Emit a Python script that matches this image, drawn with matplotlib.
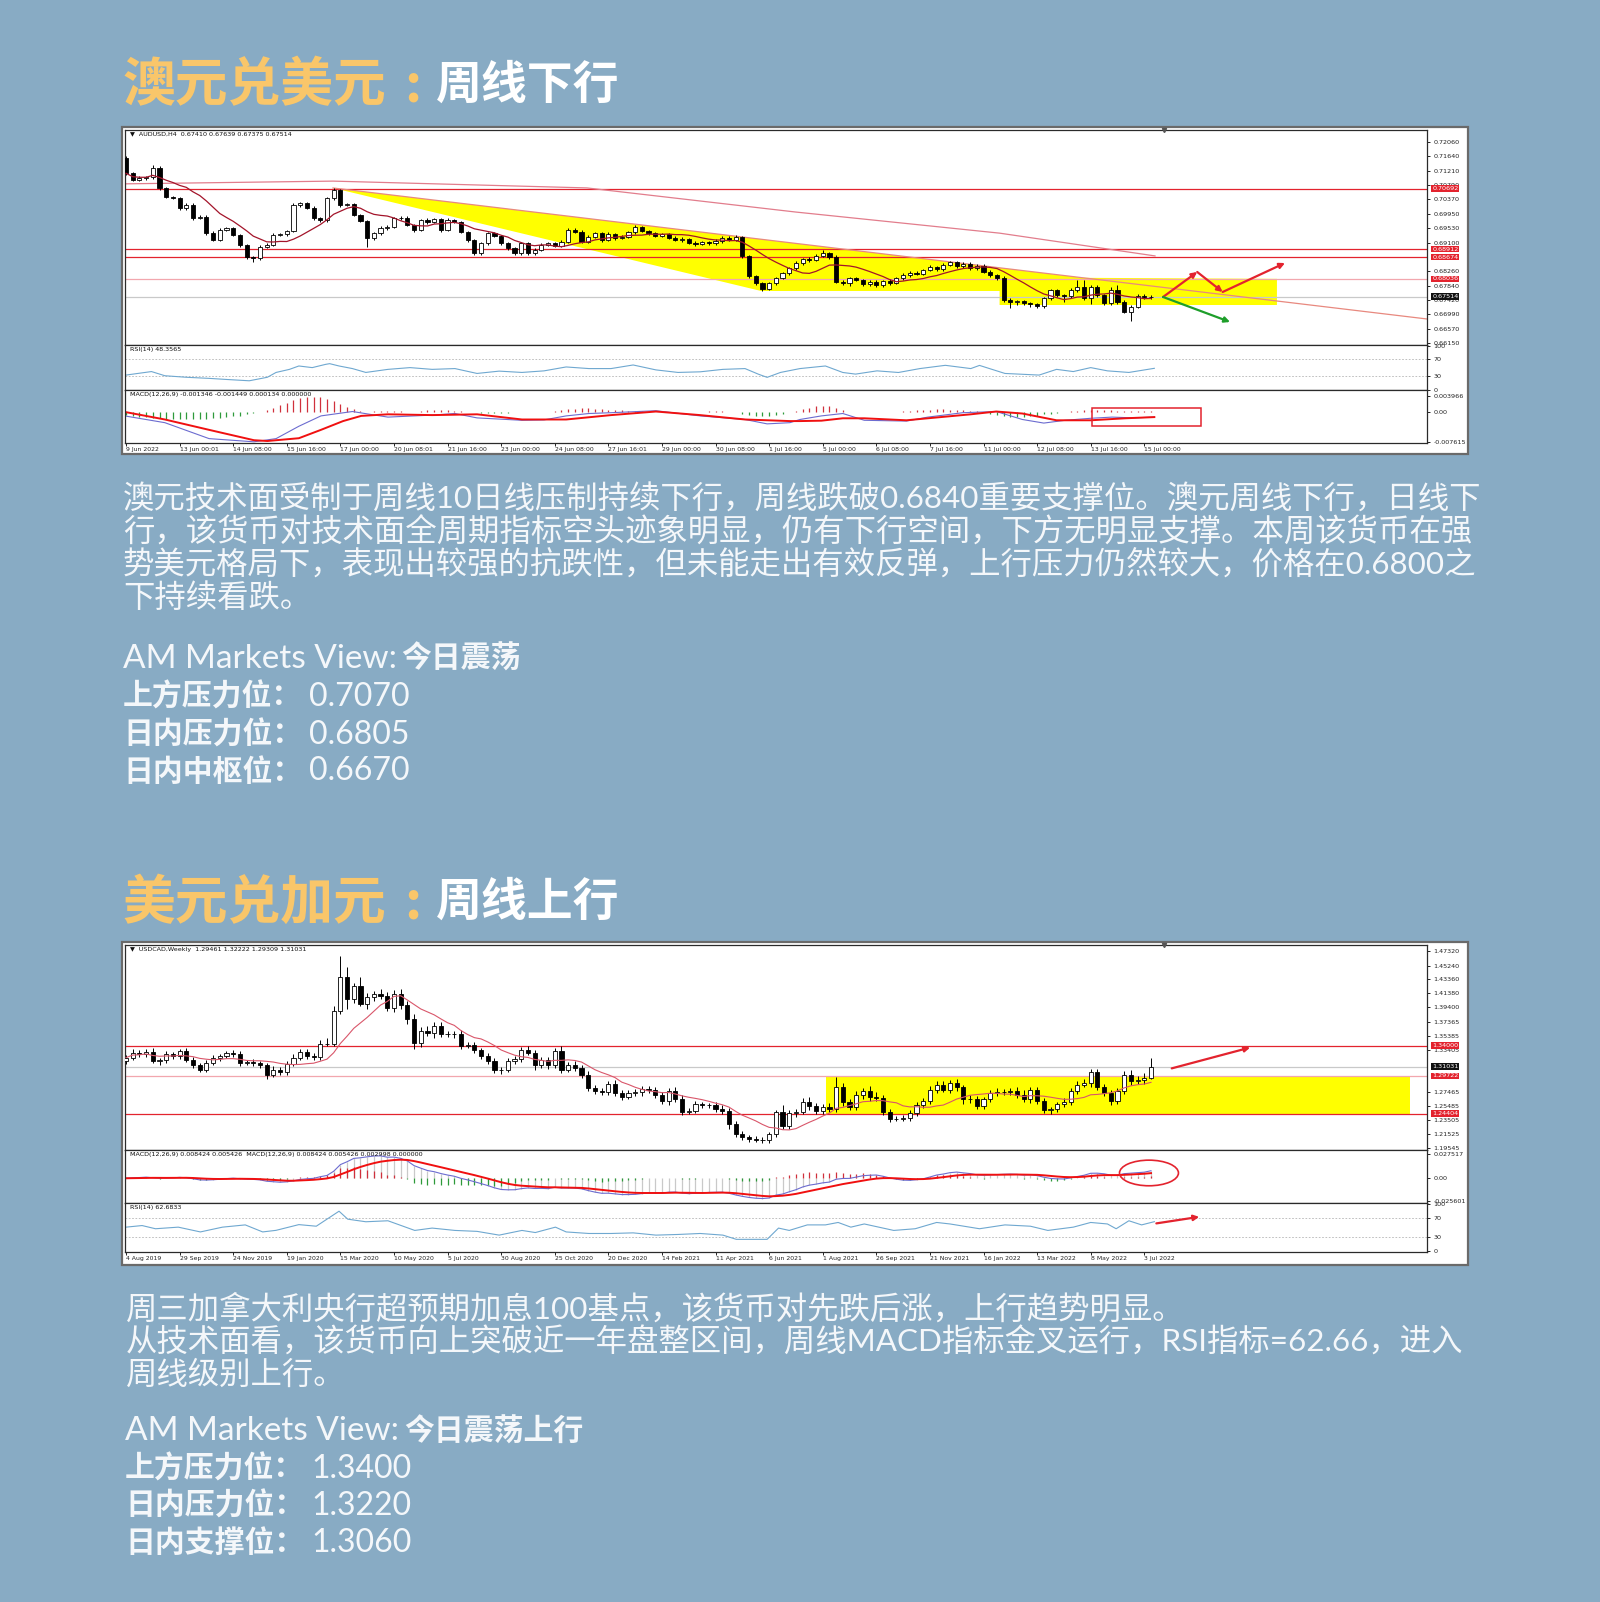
import numpy as np
import pandas as pd
import matplotlib
matplotlib.use('Agg')
import matplotlib.pyplot as plt
from matplotlib.patches import Rectangle, Ellipse, Polygon

W, H = 1600, 1602
BG = '#88ABC4'
GOLD = '#F9C66A'
CJK = ['Noto Sans CJK SC', 'DejaVu Sans']
LAT = ['Lato', 'Noto Sans CJK SC', 'DejaVu Sans']
plt.rcParams['font.family'] = CJK

# ---------------- AUDUSD H4 (9 Jun - 15 Jul 2022) ----------------
aud_first_open = 0.7158
aud_close = [
    .7114, .7094, .7099, .7102, .7131, .7070, .7045, .7040, .7011, .7021, .6982, .6986, .6938, .6918, .6947, .6952, .6933, .6903, .6869, .6864,
    .6898, .6903, .6933, .6935, .6944, .7021, .7026, .7013, .6982, .6977, .7040, .7065, .7021, .7023, .6991, .6974, .6923, .6937, .6952, .6957,
    .6982, .6984, .6962, .6947, .6977, .6970, .6979, .6947, .6977, .6972, .6942, .6918, .6879, .6908, .6937, .6930, .6908, .6893, .6879, .6908,
    .6879, .6889, .6903, .6908, .6901, .6913, .6947, .6942, .6913, .6928, .6937, .6918, .6935, .6923, .6928, .6940, .6955, .6945, .6938, .6930,
    .6935, .6925, .6918, .6922, .6910, .6905, .6912, .6908, .6915, .6925, .6918, .6928, .6870, .6812, .6790, .6775, .6790, .6805, .6820, .6835,
    .6850, .6862, .6858, .6872, .6880, .6868, .6795, .6790, .6805, .6800, .6788, .6795, .6785, .6798, .6790, .6805, .6815, .6822, .6818, .6830,
    .6838, .6832, .6845, .6852, .6840, .6848, .6835, .6842, .6825, .6815, .6805, .6741, .6736, .6738, .6732, .6729, .6724, .6746, .6771, .6756,
    .6752, .6771, .6781, .6746, .6781, .6756, .6732, .6771, .6736, .6707, .6722, .6754, .6749, .67514]
# wick lengths in pips above / below the body
aud_wick_up = [
    8, 4, 6, 4, 8, 5, 4, 3, 5, 6, 5, 4, 4, 6, 5, 4, 4, 3, 4, 3,
    5, 6, 5, 4, 4, 6, 5, 3, 4, 3, 4, 5, 3, 4, 3, 4, 3, 5, 6, 4,
    4, 5, 3, 4, 4, 5, 4, 3, 5, 4, 3, 3, 4, 5, 4, 5, 3, 4, 3, 5,
    4, 4, 5, 4, 5, 4, 6, 5, 4, 4, 5, 4, 5, 4, 4, 5, 6, 4, 3, 4,
    4, 3, 4, 4, 3, 4, 4, 3, 5, 5, 4, 5, 3, 3, 4, 3, 5, 4, 5, 4,
    5, 4, 5, 4, 8, 4, 6, 4, 5, 4, 4, 5, 4, 3, 5, 4, 5, 4, 5, 4,
    5, 4, 6, 5, 4, 5, 4, 5, 4, 5, 4, 8, 5, 4, 3, 4, 4, 5, 4, 4,
    4, 5, 18, 18, 4, 5, 4, 8, 14, 4, 4, 4, 5, 4]
aud_wick_dn = [
    5, 4, 3, 4, 4, 5, 4, 3, 5, 4, 5, 3, 5, 4, 4, 4, 4, 5, 6, 10,
    4, 5, 4, 3, 4, 4, 5, 4, 4, 5, 5, 4, 5, 4, 4, 4, 25, 4, 4, 4,
    3, 4, 4, 5, 4, 4, 3, 5, 4, 3, 4, 5, 6, 4, 4, 3, 5, 4, 5, 4,
    5, 4, 3, 4, 4, 5, 4, 3, 4, 4, 3, 5, 4, 4, 3, 4, 5, 4, 4, 3,
    4, 4, 3, 5, 4, 4, 3, 4, 4, 5, 4, 3, 5, 6, 5, 8, 4, 4, 3, 4,
    4, 5, 4, 3, 4, 5, 4, 5, 6, 4, 5, 4, 5, 4, 4, 3, 4, 5, 4, 4,
    3, 5, 4, 4, 5, 4, 4, 5, 4, 5, 4, 4, 18, 8, 6, 8, 6, 5, 6, 5,
    15, 6, 5, 6, 15, 5, 6, 5, 5, 5, 28, 5, 4, 4]
aud_dates = ['9 Jun 2022', '13 Jun 00:01', '14 Jun 08:00', '15 Jun 16:00', '17 Jun 00:00',
             '20 Jun 08:01', '21 Jun 16:00', '23 Jun 00:00', '24 Jun 08:00', '27 Jun 16:01',
             '29 Jun 00:00', '30 Jun 08:00', '1 Jul 16:00', '5 Jul 00:00', '6 Jul 08:00',
             '7 Jul 16:00', '11 Jul 00:00', '12 Jul 08:00', '13 Jul 16:00', '15 Jul 00:00']
aud_ticks = [0.72060, 0.71640, 0.71210, 0.70790, 0.70370, 0.69950, 0.69530, 0.69100,
             0.68260, 0.67840, 0.67420, 0.66990, 0.66570, 0.66150]
aud_red_levels = [0.70692, 0.68912, 0.68674]
aud_pink_level = 0.68036
aud_last = 0.67514
aud_long_ma_idx = [0, 30.9, 68.8, 100.0, 130.4, 153.6]
aud_long_ma = [0.7083, 0.7091, 0.7071, 0.7000, 0.6938, 0.6871]
aud_trend_idx = [30.9, 194.2]
aud_trend = [0.70708, 0.66856]
aud_zone_idx = [30.9, 142.8, 171.8, 171.8, 130.4, 130.4, 94.8]
aud_zone = [0.70708, 0.68067, 0.68036, 0.67267, 0.67267, 0.67679, 0.67679]
aud_up_arrow_idx = [154.8, 159.9, 163.7, 173.0]
aud_up_arrow = [0.67503, 0.68238, 0.67650, 0.68502]
aud_dn_arrow_idx = [154.8, 164.8]
aud_dn_arrow = [0.67503, 0.66768]
aud_rsi_idx = [0, 3.8, 5.8, 9, 12.4, 15, 18.4, 21.1, 22.4, 24.4, 25.8, 27.8, 29.8, 30.4, 31.8,
               33.8, 35.8, 39.1, 42.4, 45.7, 49.1, 52.4, 55.7, 59.1, 62.4, 65.7, 69.1, 72.4, 75.7, 79.1,
               82.4, 85.7, 89.1, 92.4, 94.4, 95.7, 97.7, 100.6, 104.4, 107, 108.9, 112.1, 115.3, 118.5, 122.3,
               126.1, 127.4, 131.2, 136.3, 138.9, 141.4, 144, 146.5, 149.7, 153.5]
aud_rsi = [33, 41, 31.5, 28, 25.5, 23, 20, 28, 39, 46, 53.7, 50, 57.4, 59, 53.7,
           47.8, 39, 46, 50, 46, 47.8, 36.7, 42, 39, 42.6, 51.5, 47.8, 47.8, 56, 44.8,
           39, 40.4, 46, 47.8, 35, 27.8, 39, 47.8, 53.7, 38.9, 35.2, 42.6, 38.9, 47.8, 55.2,
           47.8, 55, 36.7, 33, 46, 41, 50, 42.6, 39, 48.4]
# MACD, in units of 1e-4
aud_macd_idx = [-0.2, 5.8, 12.4, 19.1, 22.4, 25.8, 29.1, 33.8, 36.4, 39.1, 45.7, 49.1, 52.4, 59.1, 62.4,
                65.7, 69.1, 72.4, 79.1, 85.7, 92.4, 95.7, 99.1, 100.6, 103.8, 107, 110.2, 116.5, 119.7, 124.9,
                129.9, 133.8, 137, 140.2, 144, 147.2, 150.4, 153.5]
aud_macd = [-11, -28, -68, -76, -68, -37, -11, 0, -7, -14, -9, -5, -16, -22, -21,
            -11, -5, -3, 2, -11, -20, -31, -28, -20, -11, -5, -22, -24, -14, -3,
            0, -20, -29, -22, -17, -14, -16, -14]
aud_sig_idx = [-0.2, 5.8, 12.4, 19.1, 21.1, 25.8, 29.1, 32.4, 35.1, 39.1, 45.7, 52.4, 59.1, 65.7, 72.4,
               79.1, 85.7, 92.4, 99.1, 100.6, 103.8, 107, 110.2, 116.5, 121.6, 126.1, 129.9, 133.8, 138.9, 144,
               149.1, 153.5]
aud_sig = [-1, -20, -46, -72, -74, -67, -46, -24, -11, -7, -9, -7, -20, -20, -9,
           0, -9, -20, -24, -24, -23, -17, -17, -22, -14, -7, 0, -5, -22, -22,
           -17, -14]
aud_hist = [
    -8, -11, -13, -15, -16, -17, -18, -19, -20, -20, -20, -19, -18, -17, -16,
    -14, -12, -10, -7, -4, -1,
    4, 10, 16, 22, 28,
    33, 36, 37, 36, 32, 26, 19, 12,
    6, 2, -1,
    1, 1, 2, 1, 1, -1, -1, 1,
    3, 4, 4, 3, 2, 1, 0,
    -2, -3, -3, -4, -3, -3, -2, -2, -2, -1, -1, -1,
    2, 4, 6, 7, 8, 8, 7, 6, 5, 4, 3, 2, 2, 1,
    -1, -1, -2, -2, -2, -1, -1, -1, 0, 1, 1, 1, 0, -2, -5, -8,
    -10, -11, -10, -8, -5, -2,
    2, 6, 10, 13, 15, 14, 10, 5,
    -1, -1, -1, -1, -1, -1, -1, 0, 1, 2,
    3, 4, 5, 6, 6, 5, 4, 3, 2, 1,
    -2, -5, -8, -12, -14, -15, -14, -12, -10, -7, -5, -3, -1,
    1, 2, 3, 4, 4, 3, 3, 2, 2, 1, 1, 1, 1]

# ---------------- USDCAD Weekly (Aug 2019 - Jul 2022) ----------------
usd_first_open = 1.3180
usd_close = [
    1.3230, 1.3300, 1.3280, 1.3310, 1.3180, 1.3190, 1.3280, 1.3250, 1.3320, 1.3200, 1.3120, 1.3060, 1.3160, 1.3220, 1.3250, 1.3290, 1.3280, 1.3150, 1.3170, 1.3150,
    1.3120, 1.2980, 1.3060, 1.3030, 1.3140, 1.3230, 1.3310, 1.3250, 1.3240, 1.3420, 1.3420, 1.3880, 1.4370, 1.4060, 1.4240, 1.3990, 1.4090, 1.4130, 1.4100, 1.3930,
    1.4130, 1.3970, 1.3770, 1.3430, 1.3610, 1.3570, 1.3680, 1.3560, 1.3560, 1.3560, 1.3400, 1.3410, 1.3330, 1.3250, 1.3180, 1.3060, 1.3060, 1.3180, 1.3210, 1.3340,
    1.3300, 1.3130, 1.3190, 1.3120, 1.3320, 1.3060, 1.3130, 1.3090, 1.2990, 1.2800, 1.2760, 1.2740, 1.2860, 1.2730, 1.2680, 1.2730, 1.2740, 1.2790, 1.2770, 1.2700,
    1.2620, 1.2760, 1.2650, 1.2470, 1.2480, 1.2570, 1.2560, 1.2560, 1.2510, 1.2480, 1.2290, 1.2150, 1.2110, 1.2080, 1.2070, 1.2070, 1.2150, 1.2470, 1.2270, 1.2450,
    1.2470, 1.2610, 1.2550, 1.2480, 1.2540, 1.2500, 1.2810, 1.2600, 1.2530, 1.2700, 1.2760, 1.2670, 1.2660, 1.2460, 1.2370, 1.2370, 1.2380, 1.2450, 1.2560, 1.2620,
    1.2770, 1.2850, 1.2780, 1.2870, 1.2810, 1.2640, 1.2640, 1.2550, 1.2640, 1.2730, 1.2750, 1.2750, 1.2760, 1.2700, 1.2650, 1.2770, 1.2620, 1.2490, 1.2500, 1.2570,
    1.2610, 1.2760, 1.2850, 1.2870, 1.3020, 1.2820, 1.2730, 1.2620, 1.2760, 1.2990, 1.2900, 1.2920, 1.2946, 1.31031]
usd_wick_up = [
    40, 45, 35, 40, 60, 35, 40, 30, 35, 45, 40, 30, 35, 40, 30, 35, 40, 45, 30, 35,
    30, 40, 45, 35, 40, 50, 35, 40, 45, 60, 80, 80, 297, 130, 40, 120, 50, 35, 60, 60,
    50, 70, 60, 80, 50, 60, 45, 50, 40, 45, 60, 40, 40, 35, 40, 45, 40, 50, 45, 40,
    60, 40, 45, 50, 40, 70, 40, 45, 40, 45, 40, 35, 40, 50, 40, 40, 45, 40, 40, 50,
    45, 40, 60, 50, 40, 45, 40, 35, 40, 45, 40, 45, 40, 35, 40, 40, 35, 20, 90, 40,
    40, 50, 60, 45, 40, 45, 140, 60, 40, 60, 40, 75, 70, 40, 45, 40, 40, 40, 45, 40,
    60, 45, 55, 45, 60, 40, 60, 45, 40, 50, 55, 40, 45, 60, 70, 45, 40, 45, 40, 40,
    45, 40, 45, 60, 50, 50, 40, 45, 40, 50, 60, 55, 60, 119]
usd_wick_dn = [
    40, 35, 45, 40, 30, 50, 35, 40, 45, 35, 40, 35, 40, 35, 45, 30, 40, 35, 30, 45,
    35, 45, 30, 40, 40, 35, 30, 45, 40, 40, 20, 20, 30, 140, 60, 40, 70, 60, 50, 45,
    60, 50, 70, 80, 50, 40, 60, 35, 40, 50, 45, 40, 40, 35, 40, 50, 60, 35, 45, 40,
    40, 70, 40, 50, 40, 50, 40, 45, 50, 40, 45, 35, 40, 40, 45, 40, 35, 50, 40, 40,
    50, 60, 45, 50, 40, 35, 45, 40, 40, 45, 60, 40, 40, 45, 35, 40, 40, 35, 40, 50,
    60, 40, 60, 45, 50, 40, 40, 50, 45, 40, 60, 45, 40, 45, 50, 40, 40, 45, 40, 35,
    40, 45, 40, 50, 45, 60, 45, 40, 45, 40, 40, 45, 50, 40, 45, 60, 40, 45, 50, 40,
    40, 45, 40, 40, 60, 50, 45, 60, 40, 40, 50, 40, 60, 15]
usd_dates = ['4 Aug 2019', '29 Sep 2019', '24 Nov 2019', '19 Jan 2020', '15 Mar 2020',
             '10 May 2020', '5 Jul 2020', '30 Aug 2020', '25 Oct 2020', '20 Dec 2020',
             '14 Feb 2021', '11 Apr 2021', '6 Jun 2021', '1 Aug 2021', '26 Sep 2021',
             '21 Nov 2021', '16 Jan 2022', '13 Mar 2022', '8 May 2022', '3 Jul 2022']
usd_ticks = [1.47320, 1.45240, 1.43360, 1.41380, 1.39400, 1.37365, 1.35385, 1.33405,
             1.27465, 1.25485, 1.23505, 1.21525, 1.19545]
usd_red_levels = [1.34000, 1.24404]
usd_pink_level = 1.29722
usd_last = 1.31031
usd_zone_idx = [104.5, 191.6]
usd_zone = [1.24404, 1.29722]
usd_arrow_idx = [156.1, 167.8]
usd_arrow = [1.3078, 1.3372]
usd_rsi_idx = [0, 2.4, 4.4, 7.8, 11.1, 14.4, 17.8, 20.4, 22.4, 25.8, 28.4, 31.8, 33.1, 35.8, 39.1,
               43.1, 45.7, 49.1, 52.4, 55.7, 59.1, 61.1, 64.1, 65.7, 69.1, 72.4, 75.7, 79.1, 82.4, 85.7,
               89.1, 91.1, 95.7, 97.4, 99, 101.7, 104.4, 106.3, 108.2, 110.2, 114.6, 117.8, 121, 123, 127.4,
               131.2, 135, 137.6, 141.4, 144, 146.5, 147.8, 149.7, 151.6, 153.5]
usd_rsi = [51, 54.4, 47.6, 51, 40.8, 51, 55.8, 40.8, 44.2, 56.4, 53, 85, 68, 62.5, 64.6,
           44, 49, 44, 42, 34, 44, 39.5, 51, 40.8, 37.5, 37.5, 38.8, 34, 35.4, 37.5,
           34, 25, 25, 49, 44, 55.8, 55.8, 61, 51, 57.8, 44, 47.6, 61, 57.8, 47.6,
           55.8, 53, 44, 51, 61, 57.8, 47.6, 64.6, 55.8, 62.7]

# ---------------- text ----------------
title1 = ('澳元兑美元', '周线下行')
title2 = ('美元兑加元', '周线上行')
para1 = ['澳元技术面受制于周线10日线压制持续下行，周线跌破0.6840重要支撑位。澳元周线下行，日线下',
         '行，该货币对技术面全周期指标空头迹象明显，仍有下行空间，下方无明显支撑。本周该货币在强',
         '势美元格局下，表现出较强的抗跌性，但未能走出有效反弹，上行压力仍然较大，价格在0.6800之',
         '下持续看跌。']
para2 = ['周三加拿大利央行超预期加息100基点，该货币对先跌后涨，上行趋势明显。',
         '从技术面看，该货币向上突破近一年盘整区间，周线MACD指标金叉运行，RSI指标=62.66，进入',
         '周线级别上行。']
view1 = '今日震荡'
view2 = '今日震荡上行'
levels1 = [('上方压力位：', '0.7070'), ('日内压力位：', '0.6805'), ('日内中枢位：', '0.6670')]
levels2 = [('上方压力位：', '1.3400'), ('日内压力位：', '1.3220'), ('日内支撑位：', '1.3060')]

fig = plt.figure(figsize=(W / 100, H / 100), dpi=100, facecolor=BG)


def frac(l, t, r, b):
    return [l / W, 1 - b / H, (r - l) / W, (b - t) / H]


def ftext(x, y, s, **kw):
    fig.text(x / W, 1 - y / H, s, va='center', **kw)


def frame(l, t, r, b):
    fig.add_artist(Rectangle((l / W, 1 - b / H), (r - l) / W, (b - t) / H, transform=fig.transFigure,
                             facecolor='white', edgecolor='#6a6a6a', lw=1.6, zorder=-1))


def panel(l, t, r, b, ylim, ticks, labels):
    ax = fig.add_axes(frac(l, t, r, b))
    ax.set_facecolor('white')
    ax.set_xlim(-0.15, 194.2)
    ax.set_ylim(*ylim)
    ax.yaxis.tick_right()
    ax.set_yticks(ticks)
    ax.set_yticklabels(labels, fontsize=4.6, family='DejaVu Sans', color='#222222')
    ax.tick_params(axis='y', length=2.5, width=0.6, pad=2)
    ax.set_xticks([])
    for s in ax.spines.values():
        s.set_color('#2a2a2a')
        s.set_linewidth(0.9)
    return ax


def date_axis(ax, labels):
    ax.set_xticks(np.arange(0, 8 * len(labels), 8))
    ax.set_xticklabels(labels, fontsize=4.4, family='DejaVu Sans', color='#222222', ha='left')
    ax.tick_params(axis='x', length=2, width=0.6, pad=1)


def candles(ax, first_open, closes, up, dn, pip):
    c = np.array(closes)
    o = np.concatenate([[first_open], c[:-1]])
    x = np.arange(len(c))
    hi = np.maximum(o, c) + np.array(up) * pip
    lo = np.minimum(o, c) - np.array(dn) * pip
    ax.vlines(x, lo, hi, color='black', lw=0.7, zorder=3)
    body = np.maximum(np.abs(c - o), pip * 0.8)
    colors = np.where(c >= o, 'white', 'black')
    ax.bar(x, body, bottom=np.minimum(o, c), width=0.62, color=colors, edgecolor='black',
           linewidth=0.6, zorder=4)


def macd_of(closes):
    s = pd.Series(closes)
    m = s.ewm(span=12, adjust=False).mean() - s.ewm(span=26, adjust=False).mean()
    sig = m.ewm(span=9, adjust=False).mean()
    return m.values, sig.values


def tag(ax, y, s, fc):
    ax.text(1.004, y, s, transform=ax.get_yaxis_transform(), fontsize=4.6, family='DejaVu Sans',
            color='white', va='center', ha='left', clip_on=False, zorder=10,
            bbox=dict(boxstyle='square,pad=0.12', fc=fc, ec='none'))


def arrow(ax, x0, y0, x1, y1, color):
    ax.annotate('', xy=(x1, y1), xytext=(x0, y0), zorder=8,
                arrowprops=dict(arrowstyle='-|>', color=color, lw=1.6, mutation_scale=8,
                                shrinkA=0, shrinkB=0))


RED = '#E3232E'
HRED = '#D0303C'
HGREEN = '#2E9A3A'
L, R = 125, 1427

# ================= chart 1 : AUDUSD =================
frame(122, 127, 1468, 454)
ax1 = panel(L, 130, R, 345, (0.66091, 0.72413), aud_ticks, [f'{v:.5f}' for v in aud_ticks])
ax1.add_patch(Polygon(list(zip(aud_zone_idx, aud_zone)), closed=True, fc='#FFFF00', ec='none', zorder=1))
for v in aud_red_levels:
    ax1.axhline(v, color=RED, lw=0.9, zorder=2)
    tag(ax1, v, f'{v:.5f}', RED)
ax1.axhline(aud_pink_level, color='#F2A7AE', lw=0.9, zorder=2)
tag(ax1, aud_pink_level, f'{aud_pink_level:.5f}', RED)
ax1.axhline(aud_last, color='#C9C9C9', lw=0.9, zorder=2)
tag(ax1, aud_last, f'{aud_last:.5f}', '#111111')
ax1.plot(aud_trend_idx, aud_trend, color='#E8897F', lw=0.9, zorder=2)
ax1.plot(aud_long_ma_idx, aud_long_ma, color='#E27D8C', lw=0.9, zorder=2)
candles(ax1, aud_first_open, aud_close, aud_wick_up, aud_wick_dn, 0.0001)
ma10 = pd.Series(aud_close).rolling(10, min_periods=1).mean()
ax1.plot(np.arange(len(aud_close)), ma10, color='#A3142A', lw=0.9, zorder=5)
for i in range(len(aud_up_arrow_idx) - 1):
    arrow(ax1, aud_up_arrow_idx[i], aud_up_arrow[i], aud_up_arrow_idx[i + 1], aud_up_arrow[i + 1], RED)
arrow(ax1, aud_dn_arrow_idx[0], aud_dn_arrow[0], aud_dn_arrow_idx[1], aud_dn_arrow[1], '#1E9E2A')
ax1.text(0.004, 0.992, '\u25bc  AUDUSD,H4  0.67410 0.67639 0.67375 0.67514', transform=ax1.transAxes,
         fontsize=4.6, family='DejaVu Sans', va='top', color='#111111')
ax1.plot([155], [0.72413], marker='v', ms=3, color='#555555', clip_on=False, zorder=9)

ax2 = panel(L, 345, R, 390, (-1, 101.5), [100, 70, 30, 0], ['100', '70', '30', '0'])
for v in (70, 30):
    ax2.axhline(v, color='#B5B5B5', lw=0.6, ls=(0, (2, 2)))
ax2.plot(aud_rsi_idx, aud_rsi, color='#6FA8D0', lw=0.8)
ax2.text(0.004, 0.96, 'RSI(14) 48.3565', transform=ax2.transAxes, fontsize=4.6,
         family='DejaVu Sans', va='top', color='#111111')

ax3 = panel(L, 390, R, 443, (-0.0079, 0.0054), [0.003966, 0.0, -0.007615],
            ['0.003966', '0.00', '-0.007615'])
h1 = np.array(aud_hist) * 1e-4
x1 = np.arange(len(aud_hist))
ax3.vlines(x1, 0, h1, colors=np.where(h1 >= 0, HRED, HGREEN), lw=0.9)
ax3.plot(aud_macd_idx, np.array(aud_macd) * 1e-4, color='#6C6CD0', lw=0.8)
ax3.plot(aud_sig_idx, np.array(aud_sig) * 1e-4, color='#F01010', lw=1.4)
ax3.add_patch(Rectangle((144.2, -0.0036), 16.2, 0.0045, fill=False, ec=RED, lw=1.1, zorder=6))
ax3.text(0.004, 0.96, 'MACD(12,26,9) -0.001346 -0.001449 0.000134 0.000000', transform=ax3.transAxes,
         fontsize=4.6, family='DejaVu Sans', va='top', color='#111111')
date_axis(ax3, aud_dates)

# ================= chart 2 : USDCAD =================
frame(122, 942, 1468, 1265)
ax4 = panel(L, 945, R, 1150, (1.1928, 1.4816), usd_ticks, [f'{v:.5f}' for v in usd_ticks])
ax4.add_patch(Rectangle((usd_zone_idx[0], usd_zone[0]), usd_zone_idx[1] - usd_zone_idx[0],
                        usd_zone[1] - usd_zone[0], fc='#FFFF00', ec='none', zorder=1))
for v in usd_red_levels:
    ax4.axhline(v, color=RED, lw=0.9, zorder=2)
    tag(ax4, v, f'{v:.5f}', RED)
ax4.axhline(usd_pink_level, color='#F2A7AE', lw=0.9, zorder=2)
tag(ax4, usd_pink_level, f'{usd_pink_level:.5f}', RED)
ax4.axhline(usd_last, color='#C9C9C9', lw=0.9, zorder=2)
tag(ax4, usd_last, f'{usd_last:.5f}', '#111111')
candles(ax4, usd_first_open, usd_close, usd_wick_up, usd_wick_dn, 0.0001)
ma10b = pd.Series(usd_close).rolling(10, min_periods=1).mean()
ax4.plot(np.arange(len(usd_close)), ma10b, color='#D9566A', lw=0.8, zorder=5)
arrow(ax4, usd_arrow_idx[0], usd_arrow[0], usd_arrow_idx[1], usd_arrow[1], RED)
ax4.text(0.004, 0.992, '\u25bc  USDCAD,Weekly  1.29461 1.32222 1.29309 1.31031', transform=ax4.transAxes,
         fontsize=4.6, family='DejaVu Sans', va='top', color='#111111')
ax4.plot([155], [1.4816], marker='v', ms=3, color='#555555', clip_on=False, zorder=9)

ax5 = panel(L, 1150, R, 1203, (-0.028, 0.032), [0.027517, 0.0, -0.025601],
            ['0.027517', '0.00', '-0.025601'])
m2, s2 = macd_of(usd_close)
h2 = m2 - s2
x2 = np.arange(len(usd_close))
ax5.vlines(x2, 0, m2, colors='#C9C9C9', lw=0.9)
ax5.vlines(x2, 0, h2, colors=np.where(h2 >= 0, HRED, HGREEN), lw=0.9)
ax5.plot(x2, m2, color='#6C6CD0', lw=0.8)
ax5.plot(x2, s2, color='#F01010', lw=1.4)
ax5.add_patch(Ellipse((152.7, 0.006), 8.8, 0.029, fill=False, ec=RED, lw=1.2, zorder=6))
ax5.text(0.004, 0.96, 'MACD(12,26,9) 0.008424 0.005426  MACD(12,26,9) 0.008424 0.005426 0.002998 0.000000',
         transform=ax5.transAxes, fontsize=4.6, family='DejaVu Sans', va='top', color='#111111')

ax6 = panel(L, 1203, R, 1252, (-2, 102.5), [100, 70, 30, 0], ['100', '70', '30', '0'])
for v in (70, 30):
    ax6.axhline(v, color='#B5B5B5', lw=0.6, ls=(0, (2, 2)))
ax6.plot(usd_rsi_idx, usd_rsi, color='#6FA8D0', lw=0.8)
arrow(ax6, 153.8, 59, 160.2, 73, RED)
ax6.text(0.004, 0.96, 'RSI(14) 62.6833', transform=ax6.transAxes, fontsize=4.6,
         family='DejaVu Sans', va='top', color='#111111')
date_axis(ax6, usd_dates)

# ================= titles and text =================
for (gold, white), y in ((title1, 86), (title2, 903)):
    ftext(122, y, gold, color=GOLD, fontsize=38, fontweight='bold', family=CJK)
    ftext(413, y, ':', color=GOLD, fontsize=38, fontweight='bold', family=CJK, ha='center')
    ftext(436, y, white, color='white', fontsize=33, fontweight='bold', family=CJK)

TXT = '#F4F7FA'
for lines, ys, x0 in ((para1, [499, 531.5, 564, 597], 123), (para2, [1308, 1341.5, 1374], 126)):
    for s, y in zip(lines, ys):
        ftext(x0, y, s, color=TXT, fontsize=22.6, family=LAT)

for view, levels, ys, x0, vx in ((view1, levels1, [659, 697, 734.5, 771.5], 123, 401),
                                 (view2, levels2, [1431.5, 1469, 1506, 1543], 125, 404)):
    ftext(x0, ys[0], 'AM Markets View:', color=TXT, fontsize=24, family=LAT)
    ftext(vx, ys[0], view, color=TXT, fontsize=21.5, fontweight='bold', family=CJK)
    for (lab, num), y in zip(levels, ys[1:]):
        ftext(x0, y, lab, color=TXT, fontsize=21.5, fontweight='bold', family=CJK)
        ftext(x0 + 186, y, num, color=TXT, fontsize=23, family=LAT)

fig.savefig('out.png', dpi=100, facecolor=BG)
